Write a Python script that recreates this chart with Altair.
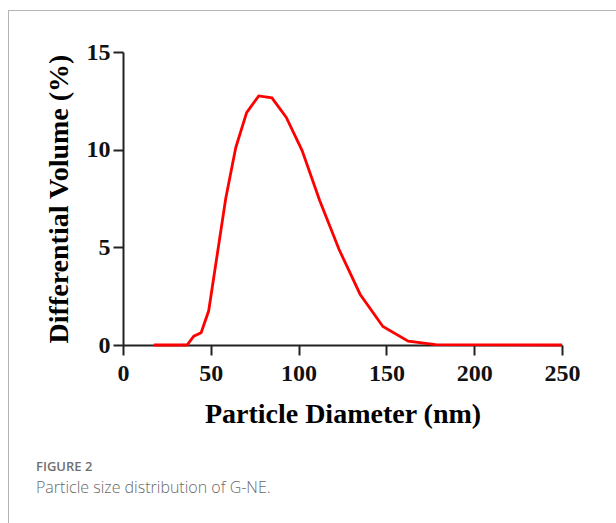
import altair as alt
import pandas as pd

# Particle size distribution (DLS), differential volume per size bin
diameter_nm = [17.6, 36.5, 40.3, 44.5, 48.8, 58.5, 64.2, 70.4, 77.3, 84.8,
               93.0, 102.0, 112.0, 123.0, 135.0, 148.0, 162.4, 178.0, 250.0]
volume_pct = [0.0, 0.0, 0.45, 0.63, 1.75, 7.5, 10.1, 11.9, 12.75, 12.65,
              11.65, 9.95, 7.4, 4.9, 2.6, 0.95, 0.2, 0.02, 0.0]

x_ticks = [0, 50, 100, 150, 200, 250]
y_ticks = [0, 5, 10, 15]

fig_label = "FIGURE 2"
caption = "Particle size distribution of G-NE."

df = pd.DataFrame({"d": diameter_nm, "v": volume_pct})

W, H = 439, 293
PAD_L, PAD_T = 123, 52

serif = "Liberation Serif"

common_axis = dict(
    titleFont=serif,
    titleFontWeight="bold",
    titleFontSize=28,
    titleColor="#000",
    labelFont=serif,
    labelFontWeight="bold",
    labelFontSize=24,
    labelColor="#111",
    labelFlush=False,
    domainColor="#222",
    domainWidth=2,
    tickColor="#222",
    tickWidth=2,
    tickSize=10,
    grid=False,
)

curve = alt.Chart(df).mark_line(color="#ff0000", strokeWidth=2.8, clip=False).encode(
    x=alt.X(
        "d:Q",
        scale=alt.Scale(domain=[0, 250], nice=False),
        axis=alt.Axis(values=x_ticks, title="Particle Diameter (nm)",
                      titlePadding=15, labelPadding=6, **common_axis),
    ),
    y=alt.Y(
        "v:Q",
        scale=alt.Scale(domain=[0, 15], nice=False),
        axis=alt.Axis(values=y_ticks, title="Differential Volume (%)",
                      titlePadding=13, labelPadding=3, **common_axis),
    ),
)

one = alt.Data(values=[{"k": 1}])

# panel frame: top and left hairlines
frame_top = alt.Chart(one).mark_rule(color="#b4b4b4", strokeWidth=1).encode(
    x=alt.value(8 - PAD_L), x2=alt.value(616 - PAD_L),
    y=alt.value(10.5 - PAD_T),
)
frame_left = alt.Chart(one).mark_rule(color="#b4b4b4", strokeWidth=1).encode(
    x=alt.value(8.5 - PAD_L),
    y=alt.value(10 - PAD_T), y2=alt.value(523 - PAD_T),
)

fig_text = alt.Chart(one).mark_text(
    text=fig_label, font="Open Sans", fontSize=13, fontWeight=600,
    color="#6f6f6f", align="left", baseline="alphabetic",
).encode(x=alt.value(36 - PAD_L), y=alt.value(471 - PAD_T))

cap_text = alt.Chart(one).mark_text(
    text=caption, font="Open Sans", fontSize=16, fontWeight=300,
    color="#6a6a6a", align="left", baseline="alphabetic",
).encode(x=alt.value(36 - PAD_L), y=alt.value(493 - PAD_T))

chart = alt.layer(frame_top, frame_left, curve, fig_text, cap_text).properties(
    width=W,
    height=H,
    autosize=alt.AutoSizeParams(type="none"),
    padding={"left": PAD_L, "top": PAD_T, "right": 616 - PAD_L - W, "bottom": 523 - PAD_T - H},
).configure(background="white").configure_view(stroke=None)

chart.save("out.html", embed_options={"renderer": "svg", "actions": False})
